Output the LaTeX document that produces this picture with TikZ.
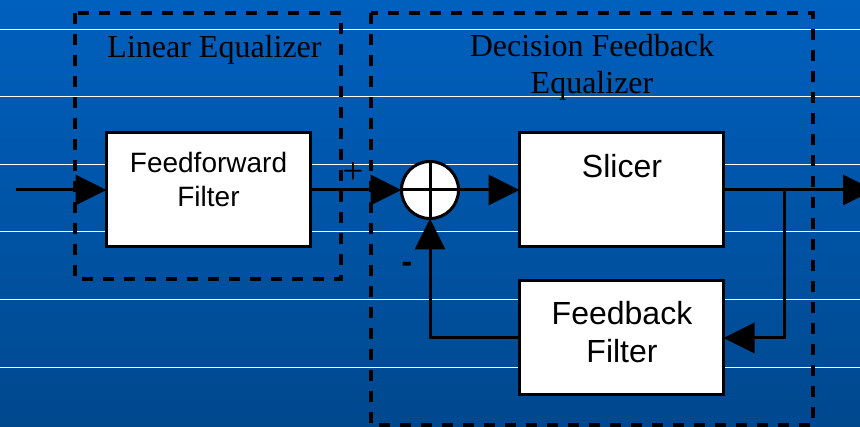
\documentclass[tikz,border=0pt]{standalone}
\usepackage{fontspec}
\setmainfont{Liberation Serif}
\newfontfamily\arialf{Liberation Sans}
\usetikzlibrary{arrows.meta}
\definecolor{bgtop}{RGB}{0,96,190}
\definecolor{bgbot}{RGB}{0,72,142}
\begin{document}
\begin{tikzpicture}[x=1pt,y=-1pt,
  blk/.style={draw=black,fill=white,line width=3pt,minimum width=204pt,minimum height=114pt,inner sep=0pt,outer sep=0pt},
  grp/.style={draw=black,line width=3.5pt,dash pattern=on 11pt off 10pt},
  wire/.style={line width=3pt},
  arr/.style={wire,-{Triangle[length=31pt,width=30pt]}},
  ttl/.style={font=\fontsize{32}{37}\selectfont,anchor=base,inner sep=0pt},
  lbl/.style={font=\arialf\fontsize{32}{37}\selectfont,anchor=base,inner sep=0pt},
  lblsm/.style={font=\arialf\fontsize{28}{33}\selectfont,anchor=base,inner sep=0pt},
  gridline/.style={white,line width=1pt}]
\clip (0,0) rectangle (860,427);
\shade[top color=bgtop,bottom color=bgbot] (0,0) rectangle (860,427);
\foreach \y in {29.3,96.3,164.3,231.3,299.3,367.3} \draw[gridline] (0,\y) -- (860,\y);

% groups
\draw[grp] (75,13) rectangle (341,279);
\draw[grp] (371,13) rectangle (813,425);

% blocks
\node[blk] (ff) at (208.5,190) {};
\node[blk] (sl) at (621.5,190) {};
\node[blk] (fb) at (621.5,338) {};
\node[draw,circle,fill=white,line width=3pt,minimum size=57pt,inner sep=0pt,outer sep=0pt] (sum) at (430,190) {};
\draw[wire] (sum.north) -- (sum.south);
\draw[wire] (sum.west) -- (sum.east);

% connectors
\coordinate (in) at (16,190);
\coordinate (out) at (874,190);
\coordinate (br) at (784,190);
\draw[arr] (in) -- (ff.west);
\draw[arr] (ff.east) -- (sum.west);
\draw[arr] (sum.east) -- (sl.west);
\draw[arr] (sl.east) -- (out);
\draw[arr] (br) |- (fb.east);
\draw[arr] (fb.west) -| (sum.south);

% texts
\node[ttl] (t1) at (214.5,58) {Linear Equalizer};
\node[ttl] (t2a) at (592,57) {Decision Feedback};
\node[ttl] (t2b) at (592,94) {Equalizer};
\node[lblsm] (ffa) at (208.5,173) {Feedforward};
\node[lblsm] (ffb) at (208.5,207) {Filter};
\node[lbl] (sla) at (622,178) {Slicer};
\node[lbl] (fba) at (622,325) {Feedback};
\node[lbl] (fbb) at (622,363) {Filter};
\node[ttl,font=\fontsize{37}{42}\selectfont] (plus) at (353,184) {+};
\node[lbl,font=\arialf\bfseries\fontsize{32}{37}\selectfont] (minus) at (407,273) {-};
\end{tikzpicture}
\end{document}
